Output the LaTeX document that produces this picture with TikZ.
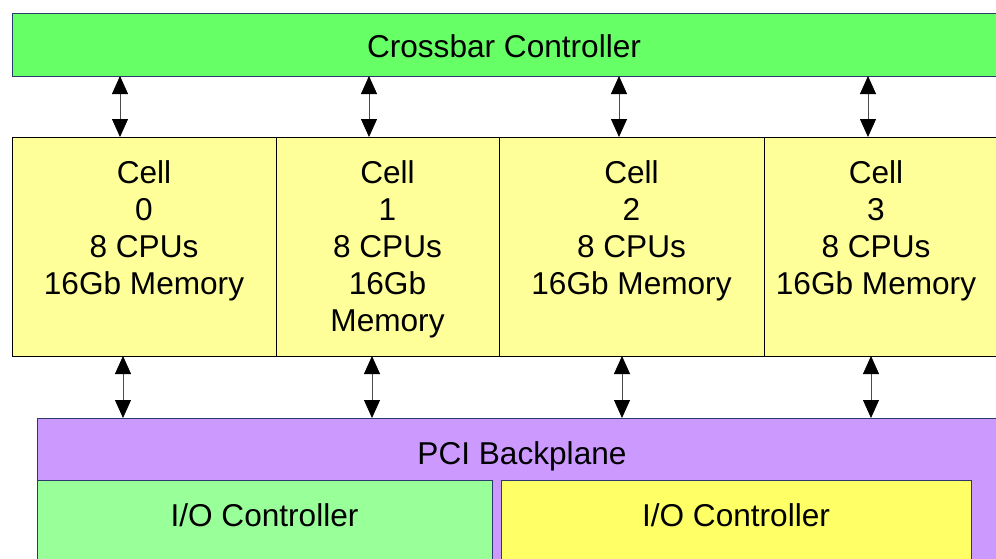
\documentclass[tikz,border=0pt]{standalone}
\usepackage{fontspec}
\setmainfont{Liberation Sans}
\usetikzlibrary{arrows.meta,positioning}

\definecolor{xbargreen}{HTML}{66FF66}
\definecolor{cellyellow}{HTML}{FFFF99}
\definecolor{pcipurple}{HTML}{CC99FF}
\definecolor{iogreen}{HTML}{99FF99}
\definecolor{ioyellow}{HTML}{FFFF66}
\definecolor{edgeblue}{HTML}{2A3A6A}

\begin{document}
\begin{tikzpicture}[x=1pt,y=-1pt,
  box/.style = {draw=edgeblue, line width=0.8pt, inner sep=0pt, outer sep=0pt, anchor=north west},
  cell/.style = {box, draw=black, fill=cellyellow, minimum height=219pt},
  txt/.style = {font=\fontsize{31.6}{37}\selectfont, align=center, inner sep=0pt},
  link/.style = {{Triangle[width=16pt,length=18pt,fill=black,color=black]}-{Triangle[width=16pt,length=18pt,fill=black,color=black]}, draw=black!70, line width=0.8pt},
  node distance = 0pt]

\useasboundingbox (0,0) rectangle (996,558);
\clip (0,0) rectangle (996,558);

\node[box, fill=xbargreen, minimum width=984pt, minimum height=63pt] (xbar) at (12,13) {};
\node[txt] (xbartext) at ([yshift=-2pt]xbar.center) {Crossbar Controller};

\node[cell, minimum width=264pt] (c0) at (12,137) {};
\node[cell, minimum width=223pt, right=of c0] (c1) {};
\node[cell, minimum width=265pt, right=of c1] (c2) {};
\node[cell, minimum width=240pt, right=of c2] (c3) {};

\node[txt, anchor=north] (t0) at ([yshift=-23pt]c0.north) {Cell\\0\\8 CPUs\\16Gb Memory};
\node[txt, anchor=north] (t1) at ([yshift=-23pt]c1.north) {Cell\\1\\8 CPUs\\16Gb\\Memory};
\node[txt, anchor=north] (t2) at ([yshift=-23pt]c2.north) {Cell\\2\\8 CPUs\\16Gb Memory};
\node[txt, anchor=north] (t3) at ([xshift=112pt,yshift=-23pt]c3.north west) {Cell\\3\\8 CPUs\\16Gb Memory};

\node[box, fill=pcipurple, minimum width=970pt, minimum height=200pt] (pci) at (37,418) {};
\node[txt, anchor=north] (pcitext) at ([yshift=-23pt]pci.north) {PCI Backplane};

\node[box, fill=iogreen, minimum width=455pt, minimum height=120pt] (io0) at (37,480) {};
\node[box, fill=ioyellow, minimum width=470pt, minimum height=120pt] (io1) at (501,480) {};
\node[txt, anchor=north] (io0text) at ([yshift=-23pt]io0.north) {I/O Controller};
\node[txt, anchor=north] (io1text) at ([yshift=-23pt]io1.north) {I/O Controller};

% crossbar links
\coordinate (u0) at (120,0);
\coordinate (u1) at (369,0);
\coordinate (u2) at (619,0);
\coordinate (u3) at (868,0);
\draw[link] (xbar.south -| u0) -- (c0.north -| u0);
\draw[link] (xbar.south -| u1) -- (c1.north -| u1);
\draw[link] (xbar.south -| u2) -- (c2.north -| u2);
\draw[link] (xbar.south -| u3) -- (c3.north -| u3);

% backplane links
\coordinate (d0) at (123,0);
\coordinate (d1) at (372,0);
\coordinate (d2) at (622,0);
\coordinate (d3) at (871,0);
\draw[link] (c0.south -| d0) -- (pci.north -| d0);
\draw[link] (c1.south -| d1) -- (pci.north -| d1);
\draw[link] (c2.south -| d2) -- (pci.north -| d2);
\draw[link] (c3.south -| d3) -- (pci.north -| d3);

\end{tikzpicture}
\end{document}
